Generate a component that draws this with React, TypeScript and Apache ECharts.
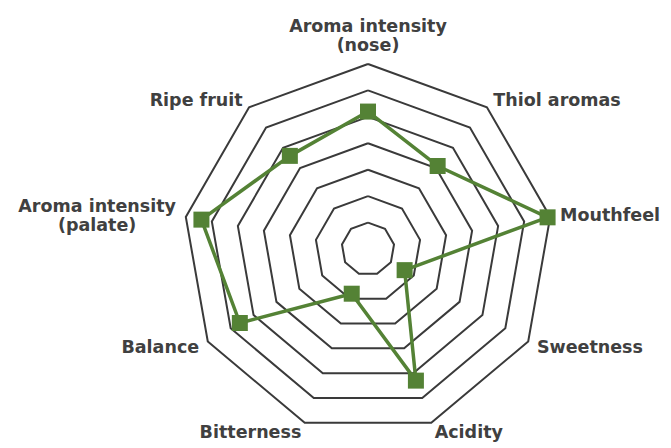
import React, { useEffect, useRef } from "react";
import * as echarts from "echarts";

const indicators = [
  "Aroma intensity\n(nose)",
  "Thiol aromas",
  "Mouthfeel",
  "Sweetness",
  "Acidity",
  "Bitterness",
  "Balance",
  "Aroma intensity\n(palate)",
  "Ripe fruit",
];
const values = [5.2, 4.1, 6.9, 1.6, 5.3, 1.8, 5.6, 6.4, 4.6];
const axisMin = 0;
const axisMax = 7;
const ringCount = 7;

const GREEN = "#548235";
const TEXT = "#404040";
const FONT = "'DejaVu Sans', sans-serif";

export default function App() {
  const ref = useRef<HTMLDivElement>(null);
  useEffect(() => {
    if (!ref.current) return;
    const chart = echarts.init(ref.current, undefined, { renderer: "svg" });
    // ECharts lays indicators out counter-clockwise; reference goes clockwise.
    const order = [0, ...indicators.map((_, i) => i).slice(1).reverse()];
    const ind = order.map((i) => ({ name: indicators[i], min: axisMin, max: axisMax }));
    const vals = order.map((i) => values[i]);
    chart.setOption({
      animation: false,
      backgroundColor: "#ffffff",
      radar: {
        center: [368, 249],
        radius: 185,
        startAngle: 90,
        shape: "polygon",
        splitNumber: ringCount,
        nameGap: 10,
        indicator: ind,
        axisName: {
          color: TEXT,
          fontSize: 17.5,
          fontWeight: "bold",
          fontFamily: FONT,
          formatter: (name: string) =>
            name
              .split("\n")
              .map((l) => `{c|${l}}`)
              .join("\n"),
          rich: {
            c: {
              align: "center",
              color: TEXT,
              fontSize: 17.5,
              fontWeight: "bold",
              fontFamily: FONT,
              lineHeight: 19,
            },
          },
        },
        axisLine: { show: false },
        axisTick: { show: false },
        axisLabel: { show: false },
        splitArea: { show: false },
        splitLine: { lineStyle: { color: "#3a3a3a", width: 2 } },
      },
      series: [
        {
          type: "radar",
          symbol: "rect",
          symbolSize: 16,
          lineStyle: { color: GREEN, width: 3.5 },
          itemStyle: { color: GREEN },
          data: [{ value: vals }],
        },
      ],
    });
    return () => chart.dispose();
  }, []);
  return (
    <div
      ref={ref}
      style={{ position: "fixed", left: 0, top: 0, width: 671, height: 448 }}
    />
  );
}
